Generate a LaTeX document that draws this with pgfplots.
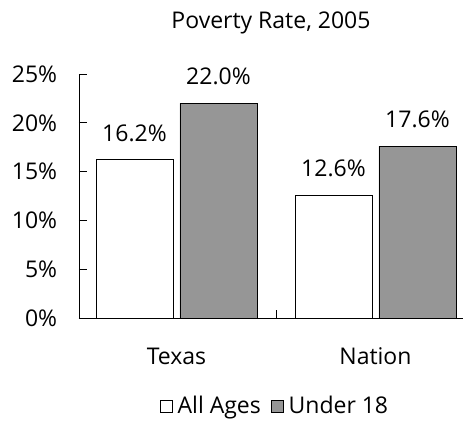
\documentclass[border=0pt]{standalone}
\usepackage{pgfplots}
\pgfplotsset{compat=1.18}
\usepackage{pgfplotstable}
\usepackage{fontspec}
\setmainfont{Open Sans}
\pgfplotstableread{
x y
0 16.2
1 12.6
}\allages
\pgfplotstableread{
x y
0 22.0
1 17.6
}\underage
\begin{document}
\fontsize{23}{27}\selectfont
\begin{tikzpicture}
\useasboundingbox (-79pt,-118pt) rectangle (384pt,318pt);
\begin{axis}[
  at={(0pt,0pt)}, anchor=south west,
  scale only axis, width=384pt, height=244pt,
  font=\fontsize{23}{27}\selectfont,
  /pgf/number format/assume math mode=true,
  ybar=7pt, bar width=77pt,
  xmin=-0.49, xmax=1.44, ymin=0, ymax=25,
  axis x line*=bottom, axis y line*=left,
  axis line style={black, line width=0.8pt},
  tick align=inside, major tick length=8pt,
  tick style={black, line width=0.8pt},
  ytick={0,5,10,15,20,25},
  yticklabels={0\%,5\%,10\%,15\%,20\%,25\%},
  yticklabel style={xshift=-14pt},
  xtick={0.5}, xticklabels={},
  extra x ticks={0,1}, extra x tick labels={Texas,Nation},
  extra x tick style={major tick length=0pt, tick label style={yshift=-22pt}},
  title={Poverty Rate, 2005},
  every axis title/.style={at={(0.5,1)}, anchor=center, yshift=51pt},
  nodes near coords={\pgfmathprintnumber[fixed,fixed zerofill,precision=1]{\pgfplotspointmeta}\%},
  every node near coord/.append style={anchor=center, yshift=27pt, text=black},
  legend style={at={(0.5,0)}, anchor=center, xshift=4pt, yshift=-88pt, draw=none, fill=none, legend columns=2,
    /tikz/every odd column/.append style={column sep=3pt},
    /tikz/every even column/.append style={column sep=8pt}},
  legend image code/.code={\draw[#1, line width=0.8pt] (0pt,-6pt) rectangle (12pt,6pt);},
]
\addplot[draw=black, line width=0.8pt, fill=white] table[x=x,y=y] {\allages};
\addplot[draw=black, line width=0.8pt, fill={rgb,255:red,150;green,150;blue,150}] table[x=x,y=y] {\underage};
\legend{All Ages, Under 18}
\end{axis}
\end{tikzpicture}
\end{document}
